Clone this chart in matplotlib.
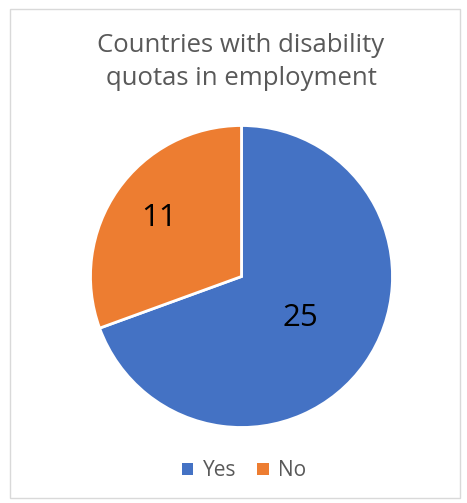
import numpy as np
import matplotlib
matplotlib.use("Agg")
import matplotlib.pyplot as plt
from matplotlib.patches import Rectangle, Patch

categories = ["Yes", "No"]
values = [25, 11]
colors = ["#4472C4", "#ED7D31"]
title = "Countries with disability\nquotas in employment"

plt.rcParams['font.family'] = ['Open Sans', 'DejaVu Sans']

W, H = 467, 503
fig = plt.figure(figsize=(W / 100, H / 100), dpi=100)
fig.patch.set_facecolor("white")

# border
fig.patches.append(Rectangle((10 / W, 1 - 498 / H), 450 / W, 489 / H, transform=fig.transFigure,
                             fill=False, edgecolor="#D9D9D9", linewidth=1.0))

cx, cy, r = 241.5, 276.5, 151
ax = fig.add_axes([(cx - r) / W, (H - cy - r) / H, 2 * r / W, 2 * r / H])
wedges, _ = ax.pie(values, colors=colors, startangle=90, counterclock=False,
                   wedgeprops=dict(edgecolor="white", linewidth=2))
ax.set_xlim(-1, 1)
ax.set_ylim(-1, 1)
ax.set_aspect("auto")
ax.axis("off")

dists = [0.48, 0.67]
for w, v, d in zip(wedges, values, dists):
    ang = np.deg2rad((w.theta1 + w.theta2) / 2)
    ax.text(d * np.cos(ang), d * np.sin(ang), str(v), ha="center", va="center",
            fontsize=22.5, color="black")

fig.text(241 / W, 1 - 62 / H, title, ha="center", va="center", fontsize=18.5,
         color="#595959", linespacing=1.42)

handles = [Patch(facecolor=c, edgecolor="none") for c in colors]
fig.legend(handles, categories, loc="center", bbox_to_anchor=(244 / W, 1 - 471 / H),
           ncol=2, frameon=False, fontsize=15, labelcolor="#595959",
           handlelength=0.55, handleheight=0.55, handletextpad=0.45, columnspacing=1.0)

fig.savefig("out.png", dpi=100, facecolor="white")
